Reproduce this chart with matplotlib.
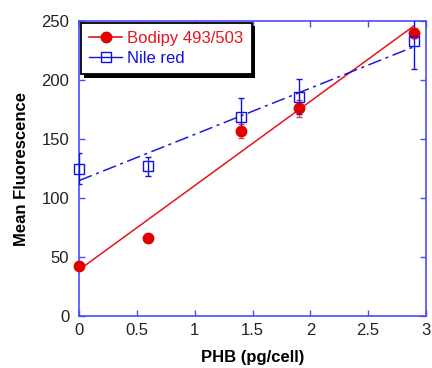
import numpy as np
import matplotlib.pyplot as plt
import matplotlib.patheffects as pe

plt.rcParams['font.family'] = ['Liberation Sans', 'DejaVu Sans']

# PHB content (pg/cell)
phb = np.array([0, 0.6, 1.4, 1.9, 2.9])

# Mean fluorescence values and error bars
bodipy = np.array([42, 66, 157, 176, 240])
bodipy_err = np.array([2, 2, 6, 7, 4])
nile = np.array([125, 127, 169, 186, 233])
nile_err = np.array([13, 8, 16, 15, 24])

axis_col = '#4a4aff'

fig = plt.figure(figsize=(4.32, 3.68), dpi=100)
ax = fig.add_axes([79 / 432, 1 - 316 / 368, 347 / 432, 295 / 368])

# linear fits over the measured range
xf = np.array([0, 2.9])
pb = np.polyfit(phb, bodipy, 1)
pn = np.polyfit(phb, nile, 1)

ax.plot(xf, np.polyval(pb, xf), color='#e8141c', lw=1.1, zorder=2)
ax.plot(xf, np.polyval(pn, xf), color='#1c1cdc', lw=1.1, dashes=(9, 3, 2, 3), zorder=2)

# error bars are clipped to the frame, the markers are not
ax.errorbar(phb, bodipy, yerr=bodipy_err, fmt='none', ecolor='#e04040',
            elinewidth=1, capsize=2.5, zorder=3)
ax.errorbar(phb, nile, yerr=nile_err, fmt='none', ecolor='#1010e0',
            elinewidth=1, capsize=2.5, zorder=3)
ax.plot(phb, bodipy, 'o', color='#e00000', ms=7.5, clip_on=False, zorder=4)
ax.plot(phb, nile, 's', mfc='none', mec='#1010e0', ms=7.5, mew=1,
        clip_on=False, zorder=5)

# legend entries
h1, = ax.plot([], [], '-o', color='#e00000', ms=7.5, lw=1.1)
h2, = ax.plot([], [], '-s', color='#1010e0', mfc='none', ms=7.5, lw=1)
leg = ax.legend([h1, h2], ['Bodipy 493/503', 'Nile red'], loc='upper left',
                bbox_to_anchor=(0.0, 1.0), fontsize=12, frameon=True, fancybox=False,
                framealpha=1, borderaxespad=0.1, handlelength=2.0, handletextpad=0.3,
                labelspacing=0.3, borderpad=0.5)
frame = leg.get_frame()
frame.set_facecolor('white')
frame.set_edgecolor('black')
frame.set_linewidth(1.3)
frame.set_path_effects([pe.SimplePatchShadow(offset=(2.5, -2.5), shadow_rgbFace='black', alpha=1),
                        pe.Normal()])
leg.texts[0].set_color('#e8141c')
leg.texts[1].set_color('#1010e0')

ax.set_xlim(0, 3)
ax.set_ylim(0, 250)
ax.set_xticks([0, 0.5, 1, 1.5, 2, 2.5, 3])
ax.set_xticklabels(['0', '0.5', '1', '1.5', '2', '2.5', '3'])
ax.set_yticks([0, 50, 100, 150, 200, 250])

for s in ax.spines.values():
    s.set_color(axis_col)
    s.set_linewidth(1.2)
ax.tick_params(direction='in', length=4.5, width=1, color=axis_col, labelsize=12,
               labelcolor='#222222', top=True, right=True)
ax.tick_params(axis='x', pad=5)
ax.tick_params(axis='y', pad=7)

ax.set_xlabel('PHB (pg/cell)', fontsize=12, fontweight='bold', labelpad=9)
ax.set_ylabel('Mean Fluorescence', fontsize=12, fontweight='bold', labelpad=9)

fig.savefig('out.png', dpi=100)
